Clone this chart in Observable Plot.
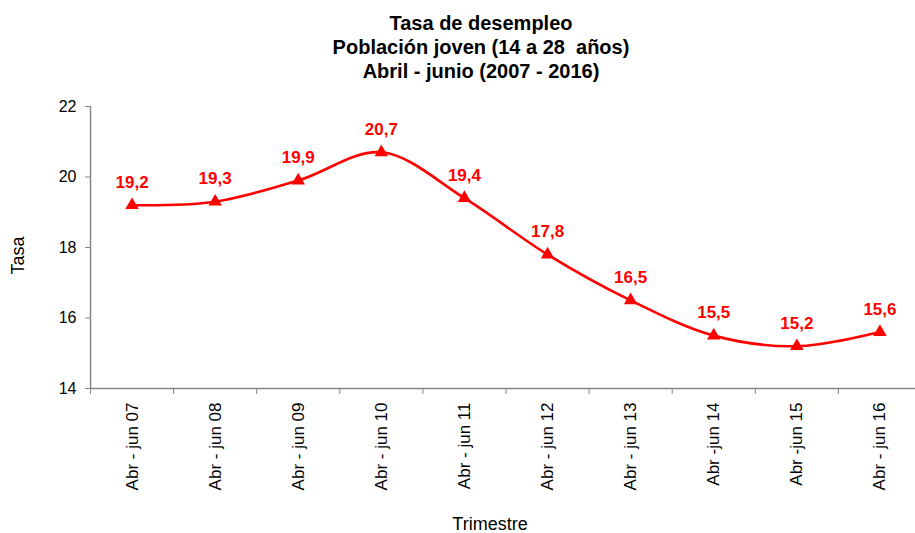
<!DOCTYPE html>
<html>
<head>
<meta charset="utf-8">
<script src="https://cdn.jsdelivr.net/npm/d3@7"></script>
<script src="https://cdn.jsdelivr.net/npm/@observablehq/plot@0.6"></script>
<style>
  body { margin: 0; background: #fff; }
  #title { box-sizing: border-box; height: 85px; width: 915px; padding-top: 11px; padding-left: 47px;
    text-align: center; font-family: "Liberation Sans", Arial, sans-serif; font-weight: bold; font-size: 20px; line-height: 24px; color: #000; }
  svg { overflow: visible; }
</style>
</head>
<body>
<div id="title">Tasa de desempleo<br>Población joven (14 a 28&nbsp; años)<br>Abril - junio (2007 - 2016)</div>
<div id="chart"></div>
<script>
const categories = ["Abr - jun 07", "Abr - jun 08", "Abr - jun 09", "Abr - jun 10", "Abr - jun 11",
  "Abr - jun 12", "Abr - jun 13", "Abr -jun 14", "Abr -jun 15", "Abr - jun 16"];
const values = [19.2, 19.3, 19.9, 20.7, 19.4, 17.8, 16.5, 15.5, 15.2, 15.6];
const yTicks = [14, 16, 18, 20, 22];
const yLabel = "Tasa";
const xLabel = "Trimestre";

const data = categories.map((c, i) => ({cat: c, pos: i + 0.5, value: values[i], label: String(values[i]).replace(".", ",")}));
const gray = "#868686";
const red = "#ff0000";

const chart = Plot.plot({
  width: 915,
  height: 448,
  marginTop: 21,
  marginBottom: 145,
  marginLeft: 90,
  marginRight: 0,
  style: {fontFamily: "'Liberation Sans', Arial, sans-serif", fontSize: "16px", color: "#000", background: "#fff"},
  x: {type: "linear", domain: [0, categories.length], range: [90, 921]},
  y: {domain: [14, 22], range: [303, 21]},
  marks: [
    Plot.axisY({ticks: yTicks, tickSize: 5, tickPadding: 9, stroke: gray, fill: "#000", label: null, fontSize: 16}),
    Plot.axisX({ticks: d3.range(0, categories.length + 1), tickSize: 6, tickFormat: () => "", stroke: gray, label: null}),
    Plot.ruleX([0], {y1: 14, y2: 22, stroke: gray, strokeWidth: 1.5}),
    Plot.ruleY([14], {stroke: gray, strokeWidth: 1.5}),
    Plot.text(data, {x: "pos", y: () => 14, text: "cat", rotate: -90, textAnchor: "end", dy: 14, fontSize: 17, fill: "#000"}),
    Plot.text([yLabel], {x: () => 0, y: () => 18, rotate: -90, dx: -72, dy: 8, fontSize: 18, fill: "#000"}),
    Plot.text([xLabel], {x: () => 5, y: () => 14, dx: -16, dy: 136, fontSize: 18, fill: "#000", letterSpacing: "0.5px"}),
    Plot.line(data, {x: "pos", y: "value", curve: "catmull-rom", stroke: red, strokeWidth: 2.6}),
    Plot.dot(data, {x: "pos", y: "value", symbol: "triangle", r: 5, fill: red, stroke: "none"}),
    Plot.text(data, {x: "pos", y: "value", text: "label", dy: -23, fontSize: 17, fontWeight: "bold", fill: red})
  ]
});
document.getElementById("chart").append(chart);
</script>
</body>
</html>
